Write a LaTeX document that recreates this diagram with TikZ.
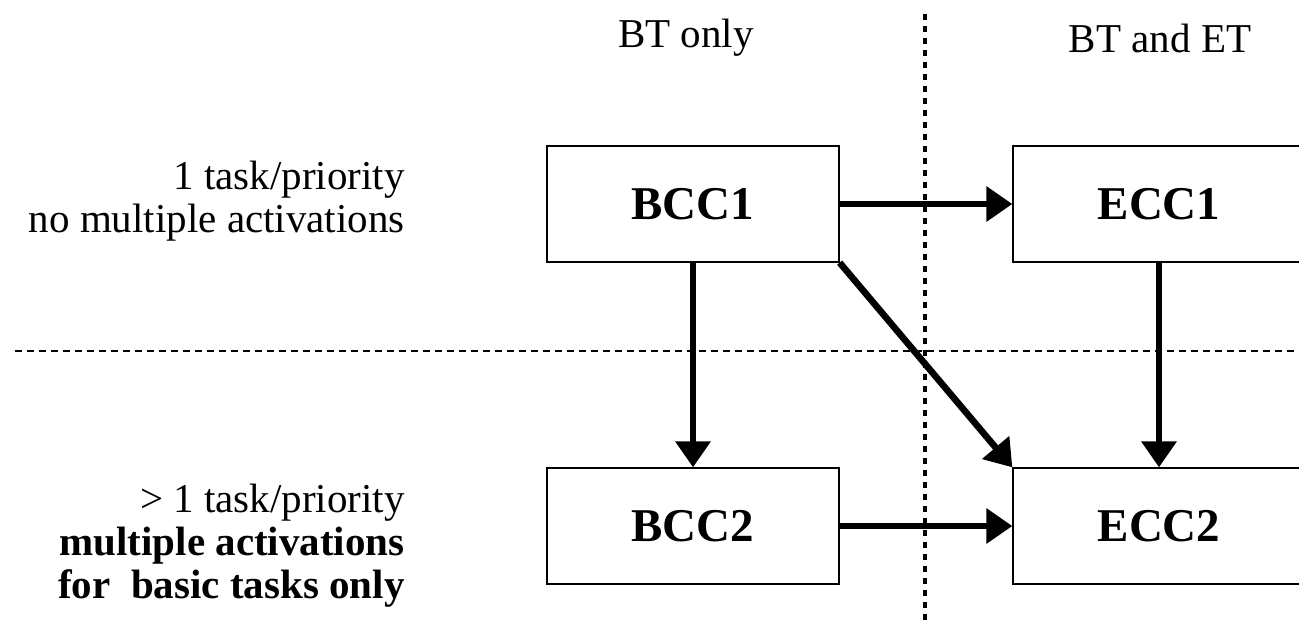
\documentclass[tikz,border=0pt]{standalone}
\usepackage{fontspec}
\setmainfont{Liberation Serif}
\usetikzlibrary{arrows.meta}

\tikzset{
  ccbox/.style={draw, line width=0.65pt, minimum width=146pt, minimum height=58pt,
    inner sep=0pt, font=\fontsize{23.5}{26}\selectfont\bfseries},
  flow/.style={line width=3.3pt, -{Triangle[length=13pt,width=17pt]}},
  lbl/.style={font=\fontsize{20.5}{21.5}\selectfont, inner sep=0pt}
}

\begin{document}
\begin{tikzpicture}[x=0.5pt,y=-0.5pt]
  \useasboundingbox (0,0) rectangle (1299,622);

  % separators
  \coordinate (vtop) at (925,14);
  \coordinate (vbot) at (925,622);
  \coordinate (hleft) at (15,351);
  \coordinate (hright) at (1299,351);
  \draw[line width=2pt, dash pattern=on 3pt off 3pt] (vtop) -- (vbot);
  \draw[line width=1pt, dash pattern=on 3.5pt off 2.5pt] (hleft) -- (hright);

  % column headers
  \node[lbl] (btonly) at (686,38) {BT only};
  \node[lbl] (btet) at (1160,38) {BT and ET};

  % row labels
  \node[lbl, anchor=east, align=right] (rowone) at (405,201)
    {1 task/priority\\no multiple activations};
  \node[lbl, anchor=east, align=right] (rowtwo) at (405,546)
    {> 1 task/priority\\\textbf{multiple activations}\\\textbf{for\ \ basic tasks only}};

  % conformance classes
  \node[ccbox] (bcc1) at (693,204) {BCC1};
  \node[ccbox] (ecc1) at (1159,204) {ECC1};
  \node[ccbox] (bcc2) at (693,526) {BCC2};
  \node[ccbox] (ecc2) at (1159,526) {ECC2};

  % upgrade paths
  \draw[flow] (bcc1.east) -- (ecc1.west);
  \draw[flow] (bcc1.south) -- (bcc2.north);
  \draw[flow] (bcc1.south east) -- (ecc2.north west);
  \draw[flow] (ecc1.south) -- (ecc2.north);
  \draw[flow] (bcc2.east) -- (ecc2.west);
\end{tikzpicture}
\end{document}
